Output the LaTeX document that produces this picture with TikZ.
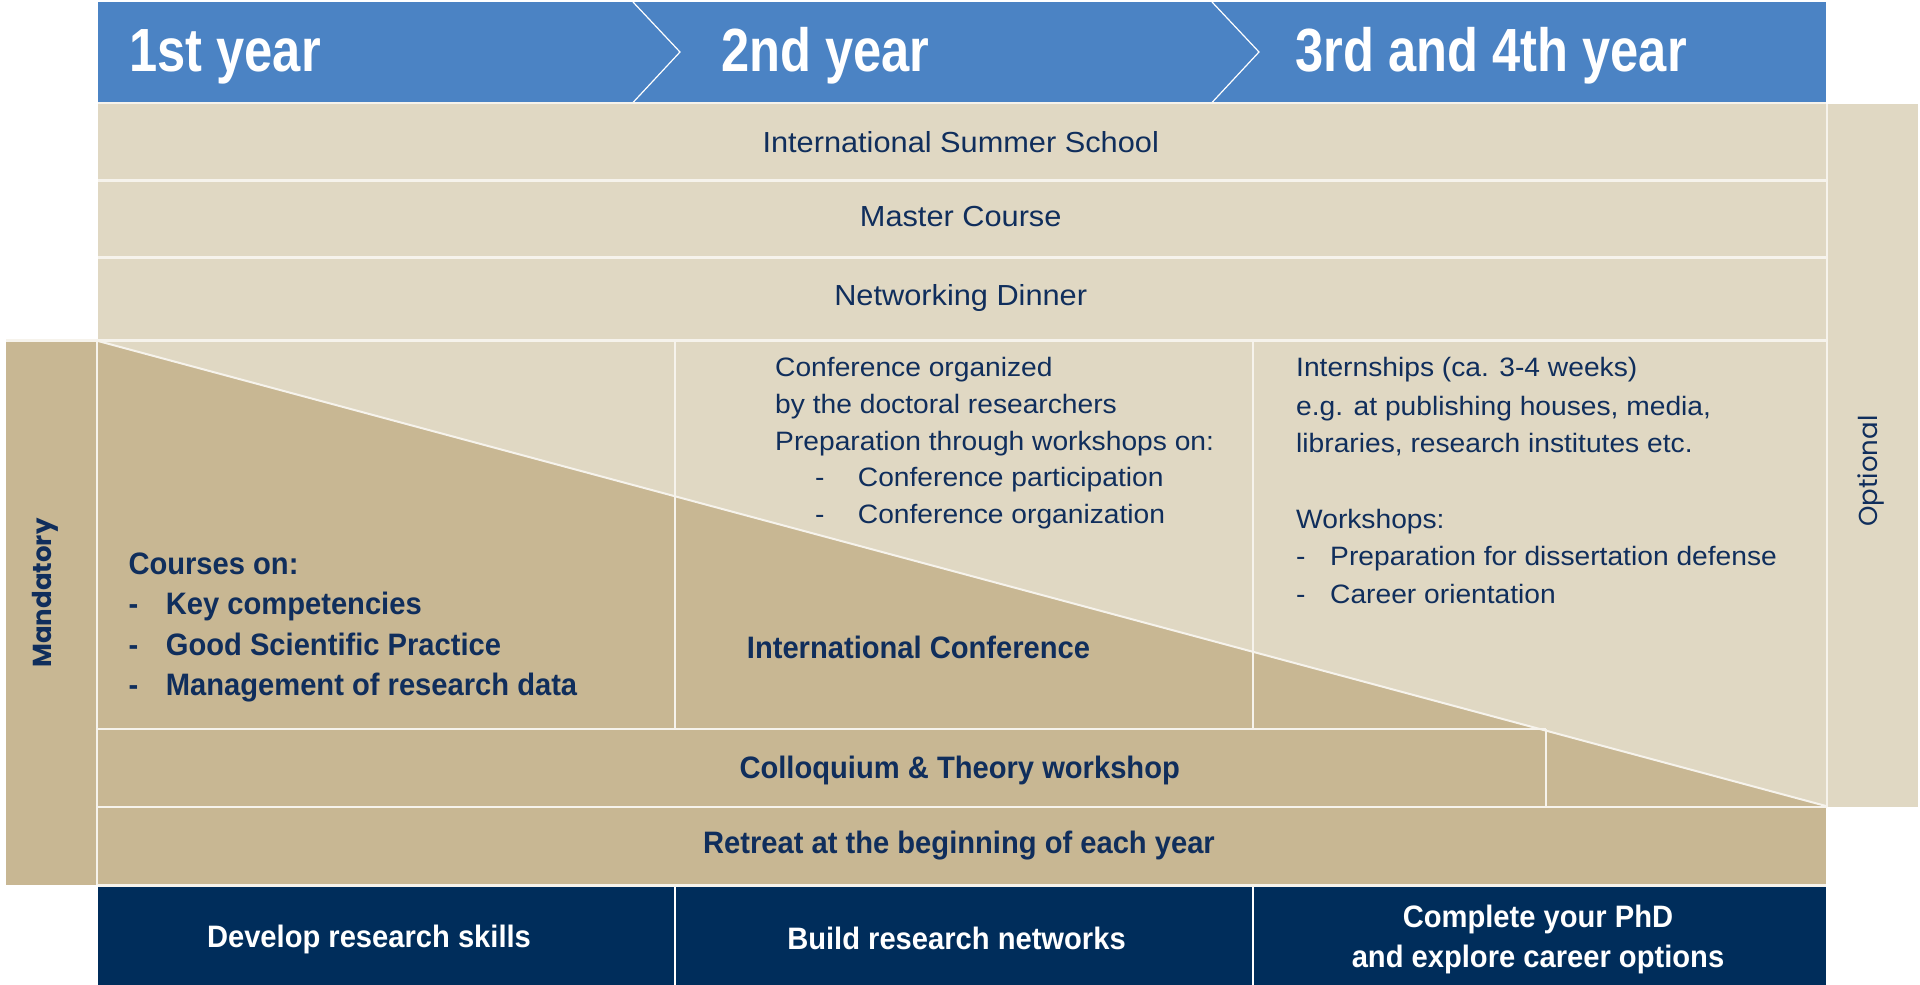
\documentclass[tikz,border=0pt]{standalone}
\usepackage{fontspec}
\setmainfont{Liberation Sans}
\newfontfamily\hfont[FakeStretch=0.83]{Liberation Sans}
\newfontfamily\rfont[FakeStretch=1.06]{Liberation Sans}
\newfontfamily\bfam[FakeStretch=0.94]{Liberation Sans}
\newfontfamily\pfont{Poppins}
\definecolor{hblue}{RGB}{75,131,196}
\definecolor{lbeige}{RGB}{224,216,195}
\definecolor{dbeige}{RGB}{200,183,147}
\definecolor{navyband}{RGB}{0,45,91}
\definecolor{tnavy}{RGB}{16,46,92}
\definecolor{sepc}{RGB}{246,243,236}
\tikzset{
  sepline/.style={draw=sepc, line width=2.4pt},
  thinsep/.style={draw=white, line width=1.2pt},
  regtxt/.style={font=\rfont\fontsize{26.6}{30}\selectfont, text=tnavy, inner sep=0pt, anchor=base west},
  rowtxt/.style={font=\rfont\fontsize{29}{33}\selectfont, text=tnavy, inner sep=0pt, anchor=base},
  boldtxt/.style={font=\bfam\bfseries\fontsize{31}{35}\selectfont, text=tnavy, inner sep=0pt, anchor=base west},
  boldc/.style={boldtxt, anchor=base},
  bottxt/.style={boldtxt, text=white, anchor=base},
  headtxt/.style={font=\hfont\bfseries\fontsize{61}{70}\selectfont, text=white, inner sep=0pt, anchor=base west},
  sidetxt/.style={font=\pfont\fontsize{26}{30}\selectfont, text=tnavy, inner sep=0pt, rotate=90, anchor=center}
}
\begin{document}
\begin{tikzpicture}[x=1pt,y=-1pt]
\useasboundingbox (0,0) rectangle (1920,985);
\fill[white] (0,0) rectangle (1920,985);
% header
\fill[hblue] (98,2) rectangle (1826,102.5);
\draw[thinsep] (633,2) -- (680,52) -- (633,102.5);
\draw[thinsep] (1212,2) -- (1259,52) -- (1212,102.5);
% light areas
\fill[lbeige] (98,103.5) rectangle (1826,808);
\fill[lbeige] (1828,103.5) rectangle (1918,807);
% dark areas
\fill[dbeige] (98,341) -- (1826,806) -- (1826,808) -- (98,808) -- cycle;
\fill[dbeige] (98,807) rectangle (1826,885);
\fill[dbeige] (6,341) rectangle (96,885);
% navy band
\fill[navyband] (98,886) rectangle (1826,985);
\draw[thinsep] (675,886) -- (675,985);
\draw[thinsep] (1253,886) -- (1253,985);
% separators
\draw[sepline] (98,103) -- (1826,103);
\draw[sepline] (98,180.5) -- (1826,180.5);
\draw[sepline] (98,257.5) -- (1826,257.5);
\draw[sepline] (6,340.5) -- (1826,340.5);
\draw[sepline] (675,341) -- (675,729);
\draw[sepline] (1253,341) -- (1253,729);
\draw[sepline] (98,729) -- (1546,729);
\draw[sepline] (1546,729) -- (1546,807);
\draw[sepline] (98,807) -- (1826,807);
\draw[sepline] (98,885.5) -- (1826,885.5);
\draw[sepline] (97,341) -- (97,885);
\draw[sepline] (1827,104) -- (1827,807);
\draw[draw=sepc, line width=2pt] (98,341) -- (1826,806);
% header texts
\node[headtxt] (y1) at (129.3,71.7) {1st year};
\node[headtxt] (y2) at (721,71.7) {2nd year};
\node[headtxt] (y3) at (1295.5,71.7) {3rd and 4th year};
% optional rows
\node[rowtxt] (iss) at (960.7,152) {International Summer School};
\node[rowtxt] (mc) at (960.7,226) {Master Course};
\node[rowtxt] (nd) at (960.7,305) {Networking Dinner};
% column 1
\node[boldtxt] (c1a) at (128.3,574) {Courses on:};
\node[boldtxt] (c1bd) at (128.3,614.5) {-};
\node[boldtxt] (c1b) at (165.7,614.5) {Key competencies};
\node[boldtxt] (c1cd) at (128.3,655.1) {-};
\node[boldtxt] (c1c) at (165.7,655.1) {Good Scientific Practice};
\node[boldtxt] (c1dd) at (128.3,695.7) {-};
\node[boldtxt] (c1d) at (165.7,695.7) {Management of research data};
% column 2
\node[regtxt] (c2a) at (775,376.7) {Conference organized};
\node[regtxt] (c2b) at (775,413.3) {by the doctoral researchers};
\node[regtxt] (c2c) at (775,450) {Preparation through workshops on:};
\node[regtxt] (c2dd) at (815,486.7) {-};
\node[regtxt] (c2d) at (857.7,486.7) {Conference participation};
\node[regtxt] (c2ed) at (815,523.3) {-};
\node[regtxt] (c2e) at (857.7,523.3) {Conference organization};
\node[boldtxt] (ic) at (746.7,658.3) {International Conference};
% column 3
\node[regtxt] (c3a) at (1296,376.7) {Internships (ca. 3-4 weeks)};
\node[regtxt] (c3b) at (1296,415) {e.g. at publishing houses, media,};
\node[regtxt] (c3c) at (1296,452.3) {libraries, research institutes etc.};
\node[regtxt] (c3d) at (1296,528.3) {Workshops:};
\node[regtxt] (c3ed) at (1296,565.7) {-};
\node[regtxt] (c3e) at (1330,565.7) {Preparation for dissertation defense};
\node[regtxt] (c3fd) at (1296,603.3) {-};
\node[regtxt] (c3f) at (1330,603.3) {Career orientation};
% mandatory rows
\node[boldc] (col) at (959.7,778.3) {Colloquium \& Theory workshop};
\node[boldc] (ret) at (959,853.3) {Retreat at the beginning of each year};
% side labels
\node[sidetxt, font=\pfont\bfseries\fontsize{26}{30}\selectfont] (mand) at (45,593) {Mandatory};
\node[sidetxt] (opt) at (1871,471) {Optional};
% bottom band
\node[bottxt] (g1) at (369,947) {Develop research skills};
\node[bottxt] (g2) at (956.5,949) {Build research networks};
\node[bottxt] (g3a) at (1538,927) {Complete your PhD};
\node[bottxt] (g3b) at (1538,967) {and explore career options};
\end{tikzpicture}
\end{document}
